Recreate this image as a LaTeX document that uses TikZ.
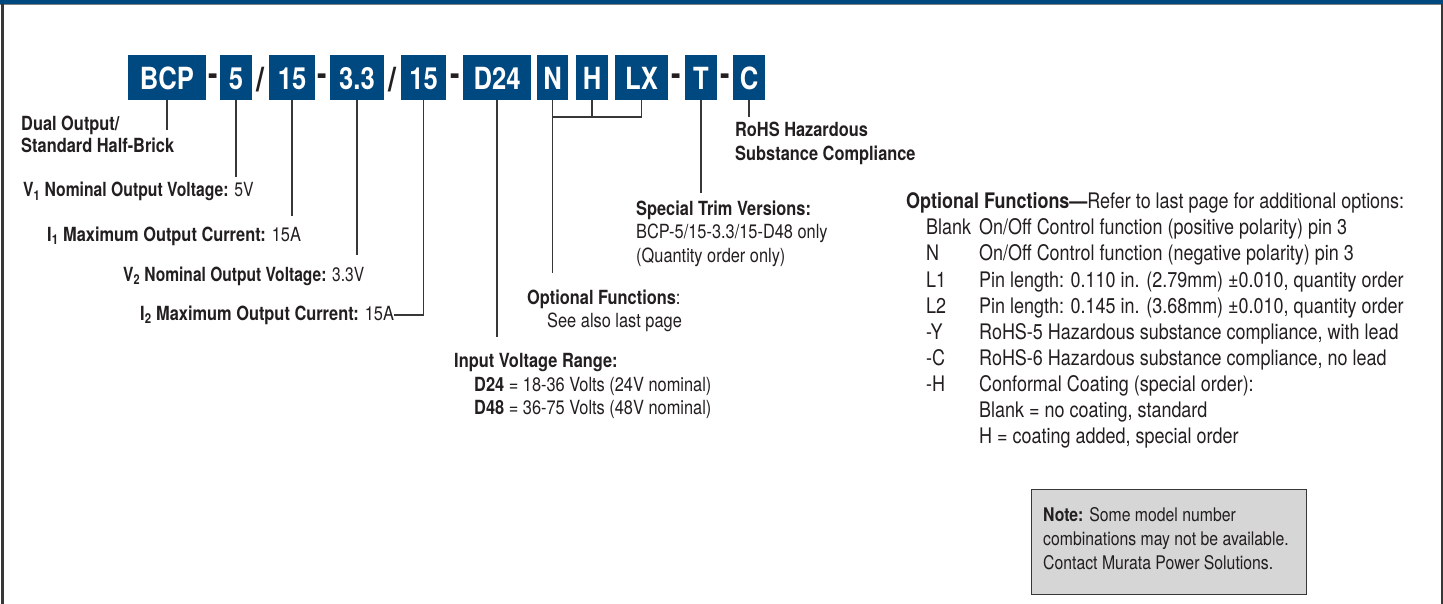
\documentclass[tikz,border=0pt]{standalone}
\usepackage{fontspec}
\usepackage{graphicx}
\setmainfont[FakeStretch=0.84]{TeX Gyre Heros}
\definecolor{bcpblue}{RGB}{0,72,128}
\definecolor{ink}{RGB}{35,31,32}
\definecolor{linec}{RGB}{55,55,55}
\definecolor{notegray}{RGB}{214,214,214}
\tikzset{
  pbox/.style={fill=bcpblue, text=white, font=\fontsize{30.5}{30}\selectfont\bfseries,
    minimum height=45pt, inner sep=0pt, text height=25pt, text depth=0pt},
  sepch/.style={text=ink, font=\fontsize{34}{34}\selectfont\bfseries, inner sep=0pt},
  lbl/.style={text=ink, font=\fontsize{19.5}{24}\selectfont, inner sep=0pt, anchor=base west},
  rlbl/.style={lbl, font=\fontsize{21.4}{26}\selectfont},
  nlbl/.style={lbl, font=\fontsize{18.8}{24}\selectfont},
  conn/.style={draw=linec, line width=1.4pt},
}
\begin{document}
\begin{tikzpicture}[x=1pt,y=-1pt]
\useasboundingbox (0,0) rectangle (1443,604);
% frame
\fill[bcpblue] (0,0) rectangle (1443,4.5);
\draw[gray, line width=0.8pt] (0,4.8) -- (1443,4.8);
\fill[linec] (1,4.5) rectangle (3.5,604);
\fill[linec] (1440.5,4.5) rectangle (1443,604);

% part number boxes
\node[pbox, minimum width=78pt] (bBCP) at (167,77.5) {BCP};
\node[pbox, minimum width=32pt] (b5) at (236,77.5) {5};
\node[pbox, minimum width=46pt] (b15) at (292,77.5) {15};
\node[pbox, minimum width=54pt] (b33) at (357,77.5) {3.3};
\node[pbox, minimum width=45pt] (b15b) at (423.5,77.5) {15};
\node[pbox, minimum width=68pt] (bD) at (497,77.5) {D24};
\node[pbox, minimum width=31pt] (bN) at (552.5,77.5) {N};
\node[pbox, minimum width=32pt] (bH) at (592,77.5) {H};
\node[pbox, minimum width=53pt] (bLX) at (641.5,77.5) {LX};
\node[pbox, minimum width=32pt] (bT) at (701,77.5) {T};
\node[pbox, minimum width=32pt] (bC) at (749,77.5) {C};

% separators
\node[sepch] (s1) at (213,80) {-};
\node[sepch] (s2) at (260,80) {/};
\node[sepch] (s3) at (322,80) {-};
\node[sepch] (s4) at (392,80) {/};
\node[sepch] (s5) at (455,80) {-};
\node[sepch] (s6) at (676,80) {-};
\node[sepch] (s7) at (725,80) {-};

% left labels
\node[lbl] (lDual1) at (21,131) {\bfseries Dual Output/};
\node[lbl] (lDual2) at (21,153) {\bfseries Standard Half-Brick};
\node[lbl] (lV1) at (23,197) {\scalebox{0.96}[1]{\bfseries V\textsubscript{1} Nominal Output Voltage:\mdseries{} 5V}};
\node[lbl] (lI1) at (47,241) {\bfseries I\textsubscript{1} Maximum Output Current:\mdseries{} 15A};
\node[lbl] (lV2) at (123,281) {\scalebox{0.95}[1]{\bfseries V\textsubscript{2} Nominal Output Voltage:\mdseries{} 3.3V}};
\node[lbl] (lI2) at (140,320) {\bfseries I\textsubscript{2} Maximum Output Current:\mdseries{} 15A};

% middle labels
\node[lbl] (lIn1) at (454,367) {\bfseries Input Voltage Range:};
\node[lbl] (lIn2) at (474,391) {\bfseries D24\mdseries{} = 18-36 Volts (24V nominal)};
\node[lbl] (lIn3) at (474,414) {\bfseries D48\mdseries{} = 36-75 Volts (48V nominal)};
\node[lbl] (lOp1) at (527,304) {\bfseries Optional Functions\mdseries :};
\node[lbl] (lOp2) at (547,327) {See also last page};
\node[lbl] (lTr1) at (636,215) {\bfseries Special Trim Versions:};
\node[lbl] (lTr2) at (636,239) {BCP-5/15-3.3/15-D48 only};
\node[lbl] (lTr3) at (636,262) {(Quantity order only)};
\node[lbl] (lRo1) at (735,137) {\bfseries RoHS Hazardous};
\node[lbl] (lRo2) at (735,161) {\bfseries Substance Compliance};

% right block
\node[rlbl] (rH) at (906,209) {\bfseries Optional Functions—\mdseries Refer to last page for additional options:};
\node[rlbl] (r1) at (926,235) {\makebox[53pt][l]{Blank}On/Off Control function (positive polarity) pin 3};
\node[rlbl] (r2) at (926,261) {\makebox[53pt][l]{N}On/Off Control function (negative polarity) pin 3};
\node[rlbl] (r3) at (926,287) {\makebox[53pt][l]{L1}Pin length: 0.110 in. (2.79mm) ±0.010, quantity order};
\node[rlbl] (r4) at (926,313) {\makebox[53pt][l]{L2}Pin length: 0.145 in. (3.68mm) ±0.010, quantity order};
\node[rlbl] (r5) at (926,339) {\makebox[53pt][l]{-Y}RoHS-5 Hazardous substance compliance, with lead};
\node[rlbl] (r6) at (926,365) {\makebox[53pt][l]{-C}RoHS-6 Hazardous substance compliance, no lead};
\node[rlbl] (r7) at (926,391) {\makebox[53pt][l]{-H}Conformal Coating (special order):};
\node[rlbl] (r8) at (979,417) {Blank = no coating, standard};
\node[rlbl] (r9) at (979,443) {H = coating added, special order};

% note box
\draw[fill=notegray, draw=linec, line width=1pt] (1031,489) rectangle (1306,594);
\node[nlbl] (n1) at (1043,521) {\bfseries Note:\mdseries{} Some model number};
\node[nlbl] (n2) at (1043,545) {combinations may not be available.};
\node[nlbl] (n3) at (1043,569) {Contact Murata Power Solutions.};

% connector end points
\coordinate (eBCP) at (167,130);
\coordinate (e5) at (236,177);
\coordinate (e15) at (292,216);
\coordinate (e33) at (357,255);
\coordinate (cI2) at (423.5,315);
\coordinate (eI2) at (394,315);
\coordinate (eD) at (497,337);
\coordinate (jN) at (552.5,117);
\coordinate (jH) at (592,117);
\coordinate (jLX) at (641.5,117);
\coordinate (eN) at (552.5,273);
\coordinate (eT) at (701,193);
\coordinate (eC) at (749,117);

\draw[conn] (bBCP.south) -- (eBCP);
\draw[conn] (b5.south) -- (e5);
\draw[conn] (b15.south) -- (e15);
\draw[conn] (b33.south) -- (e33);
\draw[conn] (b15b.south) -- (cI2) -- (eI2);
\draw[conn] (bD.south) -- (eD);
\draw[conn] (bN.south) -- (eN);
\draw[conn] (bH.south) -- (jH);
\draw[conn] (bLX.south) -- (jLX) -- (jN);
\draw[conn] (bT.south) -- (eT);
\draw[conn] (bC.south) -- (eC);
\end{tikzpicture}
\end{document}
